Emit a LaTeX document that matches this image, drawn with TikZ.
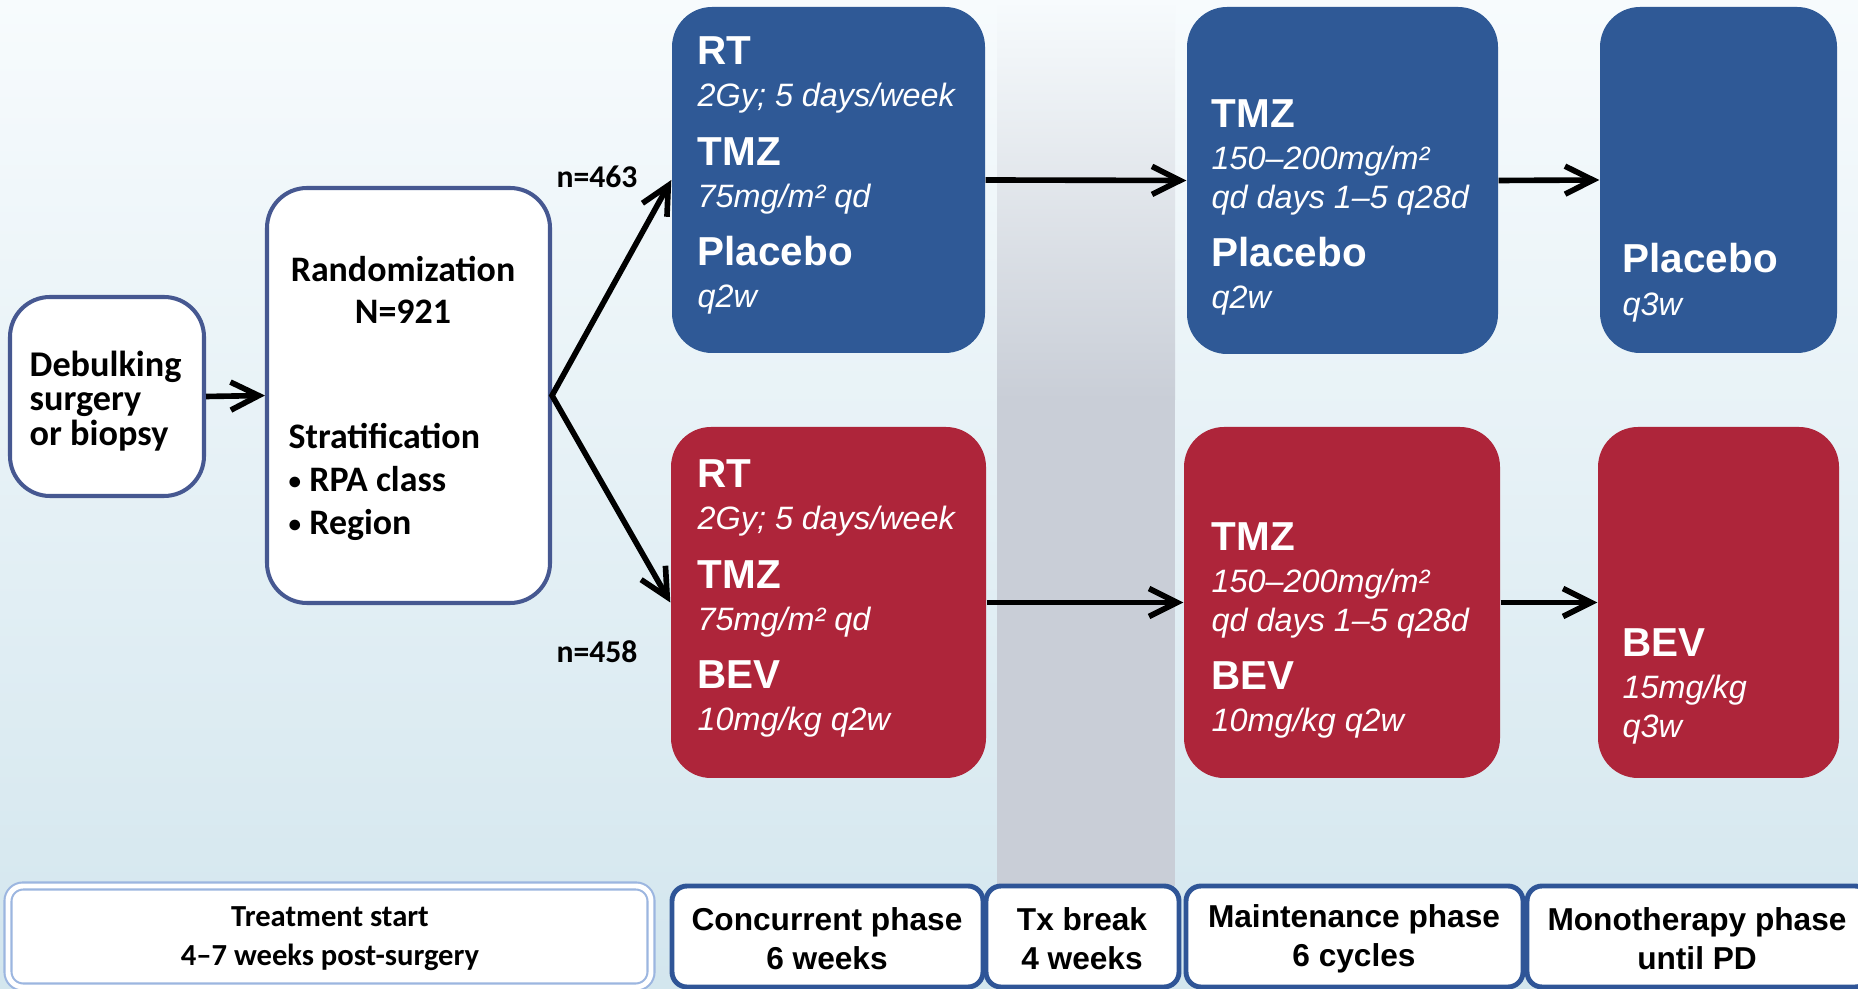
\documentclass[tikz,border=0pt]{standalone}
\usepackage{fontspec}
\setmainfont{Liberation Sans}
\newfontfamily\calfont{Carlito}
\usetikzlibrary{positioning,arrows.meta,fit}
\definecolor{armblue}{HTML}{2F5996}
\definecolor{armred}{HTML}{AE253A}
\definecolor{boxline}{HTML}{465891}
\definecolor{phaseline}{HTML}{2F5597}
\definecolor{startline}{HTML}{9CB6E0}
\definecolor{bgtop}{HTML}{F7FBFD}
\definecolor{bgbot}{HTML}{D3E6EE}
\definecolor{bandgrey}{HTML}{C9CED7}
\newcommand{\hd}[1]{{\upshape\bfseries\fontsize{11.5}{12}\selectfont #1}}
\newcommand{\bul}{\raisebox{0.15ex}{\scalebox{0.7}{\textbullet}}\ }

\begin{document}
\begin{tikzpicture}[x=0.01cm, y=-0.01cm,
  arm/.style={rounded corners=0.4cm, inner sep=0pt},
  armtext/.style={anchor=north west, inner sep=0pt, align=left, text=white,
                  font=\fontsize{9.2}{12}\selectfont\itshape},
  wbox/.style={draw=boxline, line width=1.15pt, fill=white,
               rounded corners=0.4cm, inner sep=0pt},
  wtext/.style={inner sep=0pt, font=\calfont\bfseries\fontsize{10.2}{12}\selectfont},
  phase/.style={draw=phaseline, line width=1.4pt, fill=white, rounded corners=0.15cm,
                inner sep=0pt},
  phtext/.style={inner sep=0pt, align=center, font=\bfseries\fontsize{9}{11}\selectfont},
  arr/.style={-{Straight Barb[length=2.8mm, width=2.8mm]}, line width=1.6pt},
  arrs/.style={{Straight Barb[length=2.8mm, width=2.8mm]}-{Straight Barb[length=2.8mm, width=2.8mm]},
               line width=1.6pt},
  nlab/.style={font=\calfont\bfseries\fontsize{9}{10}\selectfont},
]
  \useasboundingbox (0,0) rectangle (1858,989);
  \clip (0,0) rectangle (1858,989);
  % background and treatment break band
  \shade[top color=bgtop, middle color=bgtop, bottom color=bgbot] (0,0) rectangle (1858,989);
  \shade[top color=bgtop, bottom color=bandgrey] (997,0) rectangle (1175,400);
  \fill[bandgrey] (997,400) rectangle (1175,886);

  \node[wbox, fit={(10,297) (204,496)}] (DS) {};
  \node[wtext, anchor=north west, align=left,
        font=\calfont\bfseries\fontsize{10.3}{9.8}\selectfont] (DSt) at (29,350)
        {Debulking\\surgery\\or biopsy};

  \node[wbox, fit={(267,188) (550,603)}] (RD) {};
  \node[wtext, align=center, anchor=north,
        font=\calfont\bfseries\fontsize{10.2}{11.9}\selectfont] (RDt) at (403,256)
        {Randomization\\N=921};
  \node[wtext, align=left, anchor=north west,
        font=\calfont\bfseries\fontsize{10.2}{12.2}\selectfont] (ST) at (288,423)
        {Stratification\\\bul RPA class\\\bul Region};

  \node[arm, fill=armblue, fit={(672,7) (985,353)}] (CP) {};
  \node[arm, fill=armred, fit={(671,427) (986,778)}] (CB) {};
  \node[arm, fill=armblue, fit={(1187,7) (1498,354)}] (MP) {};
  \node[arm, fill=armred, fit={(1184,427) (1500,778)}] (MB) {};
  \node[arm, fill=armblue, fit={(1600,7) (1837,353)}] (OP) {};
  \node[arm, fill=armred, fit={(1598,427) (1839,778)}] (OB) {};

  \node[armtext] (CPt) at (697,36)
    {\hd{RT}\\2Gy; 5 days/week\\[4.6pt]\hd{TMZ}\\75mg/m² qd\\[4.6pt]\hd{Placebo}\\q2w};
  \node[armtext] (CBt) at (697,459)
    {\hd{RT}\\2Gy; 5 days/week\\[4.6pt]\hd{TMZ}\\75mg/m² qd\\[4.6pt]\hd{BEV}\\10mg/kg q2w};
  \node[armtext] (MPt) at (1211,99)
    {\hd{TMZ}\\150–200mg/m²\\[-1pt]qd days 1–5 q28d\\[4.6pt]\hd{Placebo}\\q2w};
  \node[armtext] (MBt) at (1211,522)
    {\hd{TMZ}\\150–200mg/m²\\[-1pt]qd days 1–5 q28d\\[4.6pt]\hd{BEV}\\10mg/kg q2w};
  \node[armtext] (OPt) at (1622,243) {\hd{Placebo}\\q3w};
  \node[armtext] (OBt) at (1622,628) {\hd{BEV}\\15mg/kg\\[-1pt]q3w};

  \node[nlab] (N1) at (597,177) {n=463};
  \node[nlab] (N2) at (597,652) {n=458};

  \draw[arr] (DS.east) -- (RD.west);
  \draw[arrs, line join=miter] (CP.west) -- (RD.east) -- (CB.west);
  \draw[arr] (CP.east) -- (MP.west);
  \draw[arr] (MP.east) -- (OP.west);
  \draw[arr] (CB.east) -- (MB.west);
  \draw[arr] (MB.east) -- (OB.west);

  % phase timeline
  \node[phase, draw=startline, double=white, line width=0.6pt, double distance=1.4pt,
        fit={(8,886) (651,987)}] (TS) {};
  \node[phase, fit={(672,886) (983,987)}] (PC) {};
  \node[phase, fit={(986,886) (1179,987)}] (PT) {};
  \node[phase, fit={(1186,886) (1523,987)}] (PM) {};
  \node[phase, fit={(1527,886) (1870,987)}] (PO) {};
  \node[phtext, font=\calfont\bfseries\fontsize{8.7}{11}\selectfont] (TSt) at (330,939)
        {Treatment start\\4–7 weeks post-surgery};
  \node[phtext] (PCt) at (827,939) {Concurrent phase\\6 weeks};
  \node[phtext] (PTt) at (1082,939) {Tx break\\4 weeks};
  \node[phtext] (PMt) at (1354,939) {Maintenance phase\\6 cycles};
  \node[phtext] (POt) at (1697,939) {Monotherapy phase\\until PD};
\end{tikzpicture}
\end{document}
